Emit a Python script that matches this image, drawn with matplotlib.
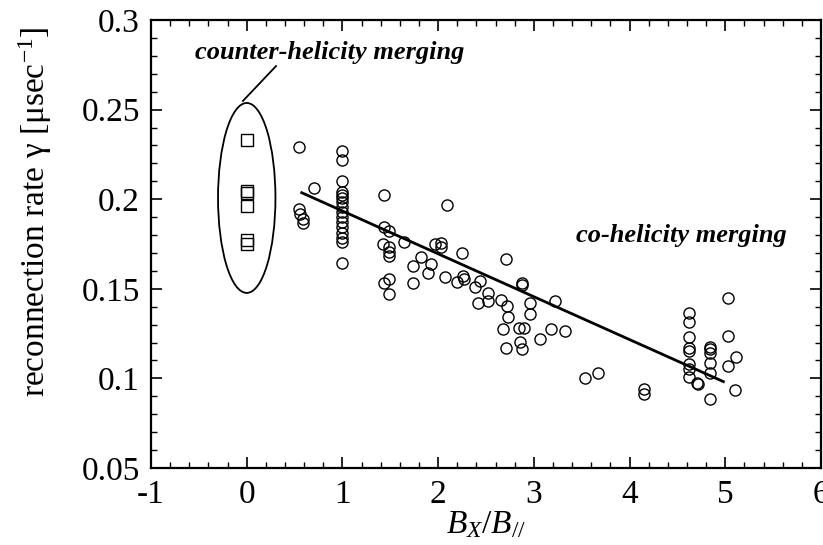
import matplotlib
matplotlib.use("Agg")
import matplotlib.pyplot as plt
from matplotlib.patches import Ellipse
from matplotlib.ticker import MultipleLocator, FuncFormatter

plt.rcParams['font.family'] = ['Liberation Serif', 'DejaVu Serif']
plt.rcParams['mathtext.fontset'] = 'custom'
plt.rcParams['mathtext.rm'] = 'Liberation Serif'
plt.rcParams['mathtext.it'] = 'Liberation Serif:italic'
plt.rcParams['axes.unicode_minus'] = False

# --- counter-helicity merging (squares) ---
counter_x = [0.0, 0.0, 0.0, 0.0, 0.0, 0.0]
counter_y = [0.233, 0.2045, 0.2035, 0.196, 0.1775, 0.175]

# --- co-helicity merging (circles) ---
co_x = [0.55, 0.70, 0.55, 0.56, 0.59, 0.59,
        1.0, 1.0, 1.0, 1.0, 1.0, 1.0, 1.0, 1.0, 1.0, 1.0, 1.0, 1.0, 1.0, 1.0, 1.0, 1.0,
        1.43, 2.09, 1.43, 1.49, 1.42, 1.49, 1.49, 1.49, 1.64, 1.43, 1.49, 1.49,
        1.82, 1.74, 1.93, 1.89, 1.74, 1.97, 2.03, 2.03, 2.25, 2.07, 2.20, 2.26,
        2.27, 2.38, 2.44, 2.42, 2.52, 2.52, 2.66, 2.71, 2.72, 2.73, 2.68, 2.71,
        2.84, 2.90, 2.85, 2.88, 2.88, 2.88, 2.96, 2.96, 3.06, 3.18, 3.22, 3.33,
        3.53, 3.67, 4.15, 4.15,
        4.62, 4.62, 4.62, 4.62, 4.62, 4.62, 4.62, 4.62, 4.70, 4.71,
        4.84, 4.84, 4.84, 4.84, 4.84, 4.84,
        5.03, 5.03, 5.03, 5.11, 5.10]
co_y = [0.229, 0.2064, 0.1944, 0.1917, 0.189, 0.1866,
        0.2271, 0.2219, 0.2103, 0.2042, 0.2023, 0.2005, 0.1986, 0.1955, 0.193, 0.1902,
        0.1874, 0.1847, 0.181, 0.1782, 0.1763, 0.1646,
        0.2022, 0.197, 0.1847, 0.1823, 0.175, 0.1735, 0.1707, 0.1683, 0.176, 0.1534,
        0.1555, 0.147,
        0.1679, 0.1629, 0.1638, 0.1586, 0.1534, 0.175, 0.1754, 0.1735, 0.1698, 0.1568,
        0.154, 0.1573, 0.1555, 0.1512, 0.1544, 0.1419, 0.1478, 0.1432, 0.1437, 0.1665,
        0.1404, 0.1344, 0.1274, 0.1171, 0.128, 0.128, 0.1205, 0.1162, 0.1532, 0.152,
        0.1419, 0.1358, 0.1222, 0.1274, 0.1432, 0.1264,
        0.100, 0.1032, 0.0939, 0.0911,
        0.1367, 0.1313, 0.1229, 0.1168, 0.1155, 0.1079, 0.1051, 0.101, 0.0976, 0.0967,
        0.1177, 0.1164, 0.114, 0.1084, 0.1032, 0.0883,
        0.1447, 0.1238, 0.1071, 0.1118, 0.0935]

# fitted line end points
fit_x = [0.575, 4.98]
fit_y = [0.2036, 0.0982]

fig = plt.figure(figsize=(8.23, 5.45), dpi=100)
ax = fig.add_axes([0.1835, 0.1413, 0.8141, 0.822])

ax.plot(co_x, co_y, 'o', mfc='none', mec='black', mew=1.0, ms=8)
ax.plot(counter_x, counter_y, 's', mfc='none', mec='black', mew=1.0, ms=8)
ax.plot(fit_x, fit_y, '-', color='black', lw=2.0)

# ellipse around the counter-helicity points
ell = Ellipse((0.0, 0.2007), width=0.6, height=0.106, fill=False, ec='black', lw=1.3)
ax.add_patch(ell)
ax.plot([-0.04, 0.306], [0.2548, 0.2743], '-', color='black', lw=1.3)

ax.text(0.87, 0.2816, 'counter-helicity merging', ha='center', va='center',
        fontsize=19, fontweight='bold', fontstyle='italic')
ax.text(4.54, 0.180, 'co-helicity merging', ha='center', va='center',
        fontsize=19, fontweight='bold', fontstyle='italic')

# --- axes ---
ax.set_xlim(-1, 6)
ax.set_ylim(0.05, 0.3)
ax.xaxis.set_major_locator(MultipleLocator(1))
ax.xaxis.set_minor_locator(MultipleLocator(0.2))
ax.yaxis.set_major_locator(MultipleLocator(0.05))
ax.yaxis.set_minor_locator(MultipleLocator(0.01))
ax.yaxis.set_major_formatter(FuncFormatter(lambda v, p: '%g' % round(v, 3)))
ax.xaxis.set_major_formatter(FuncFormatter(lambda v, p: '%d' % round(v)))
ax.tick_params(which='both', direction='in', top=True, right=True, labelsize=24)
ax.tick_params(which='major', length=8, width=1.2, pad=8)
ax.tick_params(which='minor', length=4, width=1.0)
for s in ax.spines.values():
    s.set_linewidth(1.6)

ax.set_xlabel(r'$B_X/B_{//}$', fontsize=24, labelpad=0)
ax.set_ylabel(r'reconnection rate γ [μsec$^{\mathrm{-1}}$]', fontsize=24)
ax.yaxis.set_label_coords(-0.145, 0.571)

fig.savefig('out.png', dpi=100)
